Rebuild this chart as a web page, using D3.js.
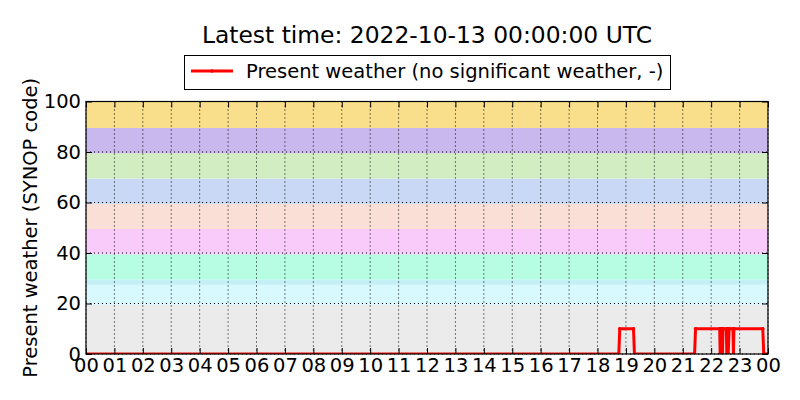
<!DOCTYPE html>
<html>
<head>
<meta charset="utf-8">
<script src="https://cdn.jsdelivr.net/npm/d3@7"></script>
<style>
  html, body { margin: 0; padding: 0; background: #fff; }
  svg { display: block; font-family: "DejaVu Sans", sans-serif; }
</style>
</head>
<body>
<svg id="chart" width="800" height="400"></svg>
<script>
// ---------- data ----------
const titleText = "Latest time: 2022-10-13 00:00:00 UTC";
const seriesName = "Present weather (no significant weather, -)";
const yLabel = "Present weather (SYNOP code)";
const dayStart = "2022-10-12 00:00";
const dayEnd = "2022-10-13 00:00";
const times = ["2022-10-12 00:00","2022-10-12 18:45","2022-10-12 18:47","2022-10-12 19:16","2022-10-12 19:18",
  "2022-10-12 21:25","2022-10-12 21:27","2022-10-12 22:18","2022-10-12 22:19","2022-10-12 22:20","2022-10-12 22:21",
  "2022-10-12 22:23","2022-10-12 22:24","2022-10-12 22:25","2022-10-12 22:32","2022-10-12 22:33","2022-10-12 22:35",
  "2022-10-12 22:36","2022-10-12 22:38","2022-10-12 22:46","2022-10-12 22:47","2022-10-12 22:48","2022-10-12 23:49",
  "2022-10-12 23:51","2022-10-13 00:00"];
const values = [0,0,10,10,0, 0,10,10,0,10,0, 10,0,10,10,0,10, 0,10,10,0,10,10, 0,0];
const yTicks = [0,20,40,60,80,100];
const bandLows  = [-0.5, 19.5, 27.5, 29.5, 39.5, 49.5, 59.5, 69.5, 79.5, 89.5];
const bandHighs = [19.5, 29.5, 29.5, 39.5, 49.5, 59.5, 69.5, 79.5, 89.5, 100];
const bandColors = ["#ebebeb","#d8f9fd","#c4eff6","#b6fde3","#f9cbfb","#f9dfd5","#c9d8f5","#d3edc3","#c8b8ee","#f9df8b"];

// ---------- layout ----------
const svg = d3.select("#chart");
const W = 800, H = 400;
const m = {left: 86, top: 101.5, right: 32, bottom: 46};
const iw = W - m.left - m.right, ih = H - m.top - m.bottom;
const parse = d3.timeParse("%Y-%m-%d %H:%M");
const data = times.map((t, i) => ({t: parse(t), v: values[i]}));

svg.append("rect").attr("width", W).attr("height", H).attr("fill", "#fff");

const x = d3.scaleTime().domain([parse(dayStart), parse(dayEnd)]).range([0, iw]);
const y = d3.scaleLinear().domain([0, 100]).range([ih, 0]);

const g = svg.append("g").attr("transform", `translate(${m.left},${m.top})`);

g.append("defs").append("clipPath").attr("id", "clip")
  .append("rect").attr("width", iw).attr("height", ih);

// bands
const bands = g.append("g").attr("clip-path", "url(#clip)");
bandLows.forEach((lo, i) => {
  const hi = bandHighs[i];
  bands.append("rect")
    .attr("x", 0).attr("width", iw)
    .attr("y", y(Math.min(hi, 100)))
    .attr("height", Math.max(0, y(Math.max(lo, 0)) - y(Math.min(hi, 100))))
    .attr("fill", bandColors[i]);
});

// grid
const xTickVals = x.ticks(d3.timeHour.every(1));
g.append("g").selectAll("line").data(xTickVals).join("line")
  .attr("x1", d => x(d)).attr("x2", d => x(d)).attr("y1", 0).attr("y2", ih)
  .attr("stroke", "#000").attr("stroke-width", 1).attr("stroke-dasharray", "1,3");
g.append("g").selectAll("line").data(yTicks).join("line")
  .attr("x1", 0).attr("x2", iw).attr("y1", d => y(d)).attr("y2", d => y(d))
  .attr("stroke", "#000").attr("stroke-width", 1).attr("stroke-dasharray", "1,3");

// line
const line = d3.line().x(d => x(d.t)).y(d => y(d.v));
const lg = g.append("g").attr("clip-path", "url(#clip)");
lg.append("path").datum(data).attr("d", line)
  .attr("fill", "none").attr("stroke", "#ff0000").attr("stroke-width", 3)
  .attr("stroke-linejoin", "round");
lg.selectAll("circle").data(data).join("circle")
  .attr("cx", d => x(d.t)).attr("cy", d => y(d.v)).attr("r", 1.8).attr("fill", "#ff0000");

// axes (ticks inward on all sides)
const tickFont = "19.5px";
const xAxis = d3.axisBottom(x).tickValues(xTickVals).tickFormat(d3.timeFormat("%H")).tickSize(-6).tickPadding(4);
const gx = g.append("g").attr("transform", `translate(0,${ih})`).call(xAxis);
const xTop = d3.axisTop(x).tickValues(xTickVals).tickFormat("").tickSize(-6);
const gxt = g.append("g").call(xTop);
const yAxis = d3.axisLeft(y).tickValues(yTicks).tickSize(-6).tickPadding(5);
const gy = g.append("g").call(yAxis);
const yRight = d3.axisRight(y).tickValues(yTicks).tickFormat("").tickSize(-6);
const gyr = g.append("g").attr("transform", `translate(${iw},0)`).call(yRight);
[gx, gxt, gy, gyr].forEach(a => {
  a.select(".domain").remove();
  a.selectAll(".tick line").attr("stroke", "#000").attr("stroke-width", 1);
  a.selectAll("text").attr("fill", "#000").style("font-size", tickFont).style("font-family", "DejaVu Sans");
});

// frame
g.append("rect").attr("width", iw).attr("height", ih)
  .attr("fill", "none").attr("stroke", "#000").attr("stroke-width", 1.2);

// title
svg.append("text").attr("x", m.left + iw / 2).attr("y", 43)
  .attr("text-anchor", "middle").style("font-size", "23.4px").attr("fill", "#000")
  .text(titleText);

// legend
const lgX = 184, lgY = 55, lgW = 486, lgH = 34;
const leg = svg.append("g");
leg.append("rect").attr("x", lgX + 0.5).attr("y", lgY + 0.5).attr("width", lgW).attr("height", lgH)
  .attr("fill", "#fff").attr("stroke", "#000").attr("stroke-width", 1);
leg.append("line").attr("x1", lgX + 7).attr("x2", lgX + 49).attr("y1", lgY + 16).attr("y2", lgY + 16)
  .attr("stroke", "#ff0000").attr("stroke-width", 3);
leg.append("circle").attr("cx", lgX + 28).attr("cy", lgY + 16).attr("r", 1.8).attr("fill", "#ff0000");
leg.append("text").attr("x", lgX + 62).attr("y", lgY + 23).style("font-size", "19.5px").attr("fill", "#000")
  .text(seriesName);

// y label
svg.append("text")
  .attr("transform", `translate(37,${m.top + ih / 2}) rotate(-90)`)
  .attr("text-anchor", "middle").style("font-size", "19.5px").attr("fill", "#000")
  .text(yLabel);
</script>
</body>
</html>
